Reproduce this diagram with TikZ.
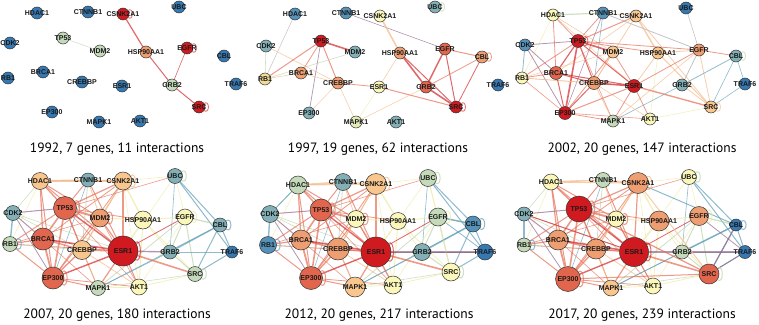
\documentclass[tikz,border=0pt]{standalone}
\usepackage{fontspec}
\newfontfamily\genefont{Liberation Sans}
\newfontfamily\capfont{PT Sans}
\usetikzlibrary{backgrounds}

% node colours
\definecolor{nBlue}{RGB}{54,120,178}
\definecolor{nTBlue}{RGB}{84,146,186}
\definecolor{nTeal}{RGB}{130,176,182}
\definecolor{nSage}{RGB}{196,218,186}
\definecolor{nLime}{RGB}{226,234,182}
\definecolor{nYel}{RGB}{251,247,186}
\definecolor{nTan}{RGB}{242,218,150}
\definecolor{nPeach}{RGB}{249,198,142}
\definecolor{nOrange}{RGB}{239,158,114}
\definecolor{nSalmon}{RGB}{226,102,78}
\definecolor{nRed}{RGB}{208,26,32}
% edge colours
\definecolor{cR}{RGB}{212,40,42}
\definecolor{cS}{RGB}{230,110,86}
\definecolor{cP}{RGB}{244,184,134}
\definecolor{cY}{RGB}{238,234,160}
\definecolor{cG}{RGB}{186,210,168}
\definecolor{cT}{RGB}{96,158,182}
\definecolor{cV}{RGB}{148,104,140}
\definecolor{cW}{RGB}{170,170,170}

\tikzset{
  gene/.style={circle, draw=black!80, line width=0.5pt, inner sep=0pt},
  lbl/.style={font=\genefont\bfseries\fontsize{7}{7}\selectfont, inner sep=0pt, text=black!90},
  lnk/.style={draw opacity=0.7},
  selfloop/.style={out=35, in=-35, looseness=1, min distance=7pt},
  yeartext/.style={font=\capfont\fontsize{13.5}{13.5}\selectfont, inner sep=0pt},
}

% interactions shared by the three later panels
\def\lateedges{HDAC1/CTNNB1/cP/1.6, HDAC1/CSNK2A1/cP/1.2, HDAC1/TP53/cS/1.4,
  HDAC1/BRCA1/cS/1.2, HDAC1/MDM2/cS/1, HDAC1/CDK2/cG/0.6, HDAC1/EP300/cS/1,
  HDAC1/ESR1/cS/1, HDAC1/RB1/cY/0.6, CTNNB1/TP53/cS/1, CTNNB1/CSNK2A1/cP/1.2,
  CTNNB1/CREBBP/cG/0.8, CTNNB1/EP300/cT/0.6, CTNNB1/ESR1/cS/1, CTNNB1/MDM2/cP/0.8,
  CSNK2A1/TP53/cS/1.2, CSNK2A1/BRCA1/cS/0.8, CSNK2A1/MDM2/cP/1,
  CSNK2A1/HSP90AA1/cY/1.4, CSNK2A1/CREBBP/cP/1, CSNK2A1/ESR1/cS/1.2,
  CSNK2A1/EP300/cS/0.8, CSNK2A1/UBC/cY/0.6, CSNK2A1/AKT1/cY/0.6,
  UBC/CBL/cT/1, UBC/TRAF6/cT/1, UBC/EGFR/cY/0.6, UBC/GRB2/cT/0.6, UBC/TP53/cS/0.6,
  UBC/ESR1/cY/0.6, CDK2/TP53/cV/1, CDK2/RB1/cT/1.4, CDK2/BRCA1/cV/1,
  CDK2/EP300/cV/0.8, CDK2/ESR1/cG/0.6, CDK2/CREBBP/cG/0.6, TP53/MDM2/cS/2,
  TP53/BRCA1/cS/1.6, TP53/EP300/cS/1.6, TP53/CREBBP/cS/1.2, TP53/ESR1/cR/1.4,
  TP53/HSP90AA1/cS/0.8, TP53/RB1/cS/1, TP53/MAPK1/cS/0.8, TP53/AKT1/cS/0.6,
  MDM2/EP300/cS/1, MDM2/ESR1/cS/1.2, MDM2/HSP90AA1/cY/1, MDM2/CREBBP/cP/1,
  MDM2/AKT1/cS/0.6, MDM2/RB1/cS/0.6, HSP90AA1/ESR1/cY/1, HSP90AA1/SRC/cY/0.8,
  HSP90AA1/AKT1/cY/1, HSP90AA1/EGFR/cY/1, HSP90AA1/GRB2/cY/0.6, EGFR/CBL/cG/1.2,
  EGFR/GRB2/cG/1, EGFR/SRC/cG/1, EGFR/ESR1/cR/0.8, EGFR/MAPK1/cG/0.8,
  EGFR/AKT1/cY/0.6, CBL/GRB2/cT/1.4, CBL/TRAF6/cT/1, CBL/SRC/cT/1, CBL/MAPK1/cT/0.8,
  GRB2/SRC/cG/1, GRB2/TRAF6/cT/0.6, GRB2/ESR1/cV/1.4, GRB2/MAPK1/cT/0.6,
  TRAF6/SRC/cT/1, RB1/BRCA1/cS/1.2, RB1/EP300/cS/1, RB1/ESR1/cS/0.8,
  RB1/CREBBP/cG/0.6, BRCA1/CREBBP/cS/1.4, BRCA1/ESR1/cR/1.6, BRCA1/EP300/cS/1.8,
  BRCA1/MAPK1/cS/0.6, CREBBP/ESR1/cS/1.6, CREBBP/EP300/cS/1.4, CREBBP/MAPK1/cP/1,
  CREBBP/AKT1/cP/0.8, ESR1/EP300/cR/1.4, ESR1/SRC/cS/1.6, ESR1/MAPK1/cS/1.2,
  ESR1/AKT1/cS/1, EP300/MAPK1/cS/1, EP300/AKT1/cS/0.8, MAPK1/AKT1/cY/0.8,
  MAPK1/SRC/cG/0.6, AKT1/SRC/cY/0.8}

\begin{document}
\begin{tikzpicture}[x=1pt, y=-1pt]
\useasboundingbox (0,0) rectangle (759,324);

% ---- 1992
\foreach \n/\x/\y/\c/\d in {HDAC1/37/13/nBlue/12, CTNNB1/88/12/nBlue/12,
    CSNK2A1/123/14/nRed/12, UBC/179/7/nBlue/12, CDK2/10/43/nBlue/12,
    TP53/63/38/nSage/12, MDM2/100/51/nSage/12, HSP90AA1/146/52/nOrange/12,
    EGFR/187/48/nRed/12, CBL/224/56/nBlue/12, RB1/8/78/nBlue/12,
    BRCA1/43/72/nBlue/12, CREBBP/82/82/nBlue/12, ESR1/122/86/nBlue/12,
    GRB2/172/85/nSage/12, TRAF6/236/84/nBlue/12, EP300/52/112/nBlue/12,
    MAPK1/99/122/nBlue/12, AKT1/140/121/nBlue/12, SRC/199/107/nRed/12}
  \node[gene, fill=\c, minimum size=\d pt, label={[lbl]center:\n}] (p1-\n) at (\x,\y) {};
\begin{pgfonlayer}{background}
\foreach \a/\b/\c/\w in {TP53/MDM2/cG/0.5, CSNK2A1/HSP90AA1/cR/1.2,
    HSP90AA1/GRB2/cR/1, EGFR/GRB2/cR/0.6, GRB2/SRC/cR/1}
  \draw[lnk, draw=\c, line width=\w] (p1-\a) -- (p1-\b);
\foreach \n/\c in {CSNK2A1/cR, EGFR/cR, SRC/cR}
  \draw[lnk, draw=\c, line width=0.8] (p1-\n) to[selfloop] (p1-\n);
\end{pgfonlayer}
\node[yeartext] (cap1) at (117,149) {1992, 7 genes, 11 interactions};

% ---- 1997
\foreach \n/\x/\y/\c/\d in {HDAC1/295/14/nTBlue/12, CTNNB1/346/13/nTBlue/12,
    CSNK2A1/380/16/nYel/12, UBC/435/7/nTeal/12, CDK2/266/46/nTeal/12,
    TP53/321/41/nRed/12, MDM2/355/52/nTeal/12, HSP90AA1/400/53/nOrange/12,
    EGFR/445/49/nSalmon/12, CBL/482/57/nOrange/12, RB1/265/79/nTan/12,
    BRCA1/301/73/nOrange/12, CREBBP/338/83/nOrange/12, ESR1/379/87/nYel/12,
    GRB2/426/87/nSalmon/12, TRAF6/498/85/nBlue/12, EP300/309/113/nTeal/12,
    MAPK1/356/122/nLime/12, AKT1/396/122/nTeal/12, SRC/456/107/nRed/12}
  \node[gene, fill=\c, minimum size=\d pt, label={[lbl]center:\n}] (p2-\n) at (\x,\y) {};
\begin{pgfonlayer}{background}
\foreach \a/\b/\c/\w in {HDAC1/RB1/cW/0.5, CDK2/RB1/cG/0.6, CDK2/CREBBP/cP/0.6,
    TP53/RB1/cS/1, TP53/BRCA1/cS/0.8, TP53/MDM2/cR/1.6, TP53/EP300/cV/0.7,
    TP53/CREBBP/cS/1, RB1/MDM2/cG/0.6, RB1/BRCA1/cP/0.6, BRCA1/CREBBP/cP/0.6,
    CREBBP/EP300/cP/0.5, CREBBP/MAPK1/cP/0.6, CREBBP/ESR1/cS/0.8,
    CTNNB1/EGFR/cV/0.6, CSNK2A1/HSP90AA1/cP/1.6, HSP90AA1/ESR1/cP/0.6,
    HSP90AA1/GRB2/cR/1.6, HSP90AA1/SRC/cR/1, EGFR/GRB2/cR/1.4, EGFR/SRC/cR/1,
    EGFR/CBL/cS/1, CBL/GRB2/cS/0.8, CBL/SRC/cR/0.8, GRB2/SRC/cR/1.6,
    ESR1/SRC/cS/1, ESR1/MAPK1/cY/0.6, MAPK1/GRB2/cP/0.6}
  \draw[lnk, draw=\c, line width=\w] (p2-\a) -- (p2-\b);
\foreach \n/\c in {CBL/cS, SRC/cR, UBC/cG}
  \draw[lnk, draw=\c, line width=0.8] (p2-\n) to[selfloop] (p2-\n);
\end{pgfonlayer}
\node[yeartext] (cap2) at (378,149) {1997, 19 genes, 62 interactions};

% ---- 2002
\foreach \n/\x/\y/\c/\d in {HDAC1/553/15/nYel/12, CTNNB1/603/13/nTBlue/12,
    CSNK2A1/636/16/nPeach/12, UBC/686/8/nBlue/12, CDK2/525/45/nTBlue/12,
    TP53/578/41/nRed/13, MDM2/613/52/nPeach/12, HSP90AA1/658/53/nPeach/12,
    EGFR/699/50/nOrange/12, CBL/736/56/nTeal/12, RB1/522/78/nYel/12,
    BRCA1/556/73/nSalmon/13, CREBBP/594/83/nOrange/13, ESR1/634/86/nRed/13,
    GRB2/682/85/nTeal/12, TRAF6/745/84/nBlue/12, EP300/565/113/nRed/13,
    MAPK1/613/121/nSage/12, AKT1/650/119/nYel/12, SRC/711/107/nPeach/12}
  \node[gene, fill=\c, minimum size=\d pt, label={[lbl]center:\n}] (p3-\n) at (\x,\y) {};
\begin{pgfonlayer}{background}
\foreach \a/\b/\c/\w in {HDAC1/CTNNB1/cG/1.2, HDAC1/RB1/cY/0.6, HDAC1/BRCA1/cS/0.8,
    HDAC1/TP53/cS/0.8, HDAC1/MDM2/cP/0.6, HDAC1/ESR1/cP/0.5, CTNNB1/TP53/cS/0.8,
    CTNNB1/EGFR/cW/0.8, CTNNB1/CREBBP/cT/0.6, CTNNB1/EP300/cV/0.6,
    CTNNB1/CSNK2A1/cP/0.8, CSNK2A1/TP53/cS/1, CSNK2A1/HSP90AA1/cP/1.4,
    CSNK2A1/CREBBP/cP/0.8, CSNK2A1/SRC/cP/0.8, CSNK2A1/BRCA1/cP/0.6,
    UBC/EGFR/cW/0.6, CDK2/TP53/cV/0.8, CDK2/RB1/cT/0.8, CDK2/BRCA1/cV/0.8,
    CDK2/EP300/cV/0.8, TP53/MDM2/cR/1.6, TP53/BRCA1/cR/1.2, TP53/EP300/cR/1.6,
    TP53/CREBBP/cR/1, TP53/ESR1/cR/1, TP53/HSP90AA1/cS/0.8, TP53/RB1/cS/0.8,
    TP53/MAPK1/cS/0.6, TP53/EGFR/cS/0.8, MDM2/EP300/cS/0.8, MDM2/RB1/cP/0.6,
    MDM2/CREBBP/cP/0.6, MDM2/ESR1/cS/0.8, HSP90AA1/ESR1/cP/0.8,
    HSP90AA1/SRC/cP/1, HSP90AA1/AKT1/cY/0.6, HSP90AA1/EGFR/cP/0.8,
    EGFR/CBL/cS/0.8, EGFR/GRB2/cW/0.8, EGFR/SRC/cP/0.8, EGFR/ESR1/cS/0.8,
    EGFR/MAPK1/cP/0.6, CBL/GRB2/cT/0.8, CBL/TRAF6/cT/0.6, CBL/SRC/cT/0.6,
    GRB2/MAPK1/cT/0.6, GRB2/SRC/cP/0.8, TRAF6/SRC/cT/0.6, RB1/BRCA1/cS/0.8,
    RB1/EP300/cS/0.6, RB1/CREBBP/cP/0.6, RB1/ESR1/cP/0.6, BRCA1/CREBBP/cR/1,
    BRCA1/ESR1/cR/1, BRCA1/EP300/cR/1, CREBBP/ESR1/cR/1.6, CREBBP/EP300/cR/1,
    CREBBP/MAPK1/cP/0.8, CREBBP/AKT1/cP/0.6, ESR1/EP300/cS/1, ESR1/SRC/cS/1.4,
    ESR1/MAPK1/cS/0.8, ESR1/AKT1/cS/0.8, EP300/MAPK1/cS/0.8, EP300/AKT1/cS/0.6,
    AKT1/SRC/cY/0.6}
  \draw[lnk, draw=\c, line width=\w] (p3-\a) -- (p3-\b);
\foreach \n/\c in {CBL/cG, SRC/cP, TP53/cR}
  \draw[lnk, draw=\c, line width=0.8] (p3-\n) to[selfloop] (p3-\n);
\end{pgfonlayer}
\node[yeartext] (cap3) at (642,149) {2002, 20 genes, 147 interactions};

% ---- 2007
\foreach \n/\x/\y/\c/\d in {HDAC1/40/181/nPeach/17, CTNNB1/88/180/nTeal/14,
    CSNK2A1/123/181/nPeach/18, UBC/175/176/nTeal/15, CDK2/13/213/nTeal/15,
    TP53/65/208/nSalmon/23, MDM2/100/218/nOrange/18, HSP90AA1/143/220/nYel/18,
    EGFR/185/217/nYel/16, CBL/220/225/nTeal/14, RB1/10/244/nSage/15,
    BRCA1/43/239/nSalmon/22, CREBBP/82/250/nPeach/19, ESR1/123/251/nRed/30,
    GRB2/170/252/nTeal/14, TRAF6/232/252/nBlue/12, EP300/53/278/nSalmon/22,
    MAPK1/98/288/nSage/15, AKT1/139/287/nYel/16, SRC/195/274/nSage/15}
  \node[gene, fill=\c, minimum size=\d pt, label={[lbl]center:\n}] (p4-\n) at (\x,\y) {};
\node[yeartext] (cap4) at (117,315) {2007, 20 genes, 180 interactions};

% ---- 2012
\foreach \n/\x/\y/\c/\d in {HDAC1/298/185/nSage/18, CTNNB1/343/182/nTeal/17,
    CSNK2A1/376/184/nPeach/21, UBC/428/178/nSage/17, CDK2/270/214/nTeal/17,
    TP53/321/210/nSalmon/22, MDM2/356/219/nYel/17, HSP90AA1/398/221/nYel/17,
    EGFR/438/217/nSage/18, CBL/473/224/nTBlue/16, RB1/268/245/nTBlue/17,
    BRCA1/301/240/nOrange/20, CREBBP/338/249/nOrange/22, ESR1/376/252/nRed/30,
    GRB2/422/252/nTeal/17, TRAF6/485/252/nBlue/16, EP300/311/278/nSalmon/23,
    MAPK1/355/287/nPeach/20, AKT1/393/285/nYel/18, SRC/451/272/nYel/18}
  \node[gene, fill=\c, minimum size=\d pt, label={[lbl]center:\n}] (p5-\n) at (\x,\y) {};
\node[yeartext] (cap5) at (379,315) {2012, 20 genes, 217 interactions};

% ---- 2017
\foreach \n/\x/\y/\c/\d in {HDAC1/551/182/nYel/16, CTNNB1/603/180/nSage/15,
    CSNK2A1/638/183/nOrange/21, UBC/689/177/nYel/15, CDK2/524/214/nTeal/14,
    TP53/579/209/nRed/26, MDM2/616/219/nYel/16, HSP90AA1/659/221/nOrange/20,
    EGFR/699/216/nOrange/19, CBL/736/225/nBlue/12, RB1/524/245/nSage/14,
    BRCA1/558/240/nOrange/20, CREBBP/596/249/nOrange/20, ESR1/634/252/nRed/29,
    GRB2/682/252/nSage/14, TRAF6/745/252/nBlue/13, EP300/568/279/nSalmon/25,
    MAPK1/611/288/nPeach/16, AKT1/653/286/nYel/16, SRC/709/274/nSalmon/20}
  \node[gene, fill=\c, minimum size=\d pt, label={[lbl]center:\n}] (p6-\n) at (\x,\y) {};
\node[yeartext] (cap6) at (642,315) {2017, 20 genes, 239 interactions};

% edges of the later panels
\begin{pgfonlayer}{background}
\foreach \p in {4,5,6}
  \foreach \a/\b/\c/\w in \lateedges
    \draw[lnk, draw=\c, line width=\w] (p\p-\a) -- (p\p-\b);
\foreach \a/\b/\c/\w in {GRB2/TRAF6/cV/1.2, CBL/EGFR/cT/1.4, CDK2/HDAC1/cT/1,
    UBC/SRC/cY/0.8, TRAF6/EGFR/cT/0.8, ESR1/TRAF6/cV/1}
  \draw[lnk, draw=\c, line width=\w] (p5-\a) -- (p5-\b);
\foreach \a/\b/\c/\w in {CSNK2A1/CBL/cT/1, GRB2/TRAF6/cV/1.2, SRC/CBL/cV/1.2,
    SRC/TRAF6/cV/1, EGFR/TRAF6/cV/0.8, CDK2/ESR1/cR/1, TP53/SRC/cS/1.2,
    EP300/SRC/cS/1, CSNK2A1/SRC/cP/1}
  \draw[lnk, draw=\c, line width=\w] (p6-\a) -- (p6-\b);
\foreach \p in {4,5,6}
  \foreach \n/\c in {ESR1/cR, EP300/cS, MDM2/cS, CSNK2A1/cP, UBC/cG, CBL/cT,
      EGFR/cY, TP53/cS, SRC/cG, RB1/cT}
    \draw[lnk, draw=\c, line width=1] (p\p-\n) to[selfloop, min distance=8pt] (p\p-\n);
\end{pgfonlayer}
\end{tikzpicture}
\end{document}
